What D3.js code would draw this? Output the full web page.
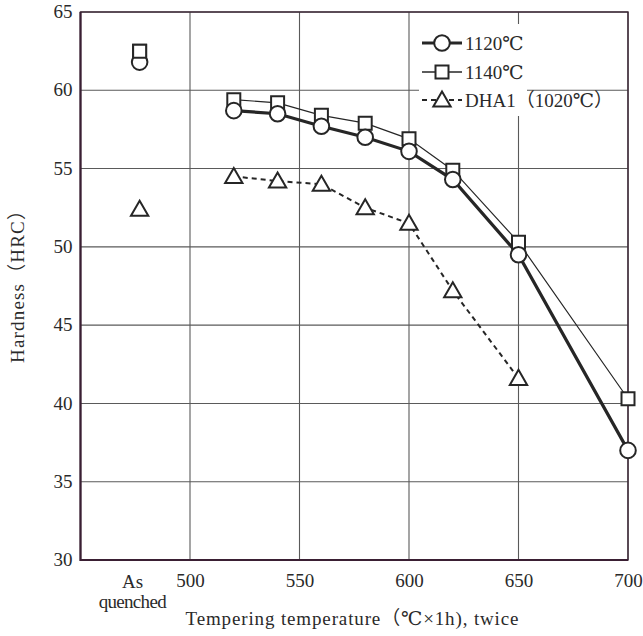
<!DOCTYPE html>
<html>
<head>
<meta charset="utf-8">
<script src="https://cdn.jsdelivr.net/npm/d3@7"></script>
<style>
  html, body { margin: 0; padding: 0; background: #fff; }
  svg { display: block; }
  text { font-family: "Liberation Serif", "DejaVu Serif", "Noto Sans CJK JP", serif; fill: #2a2a2a; }
</style>
</head>
<body>
<svg id="chart" width="643" height="636"></svg>
<script>
// Tempering temperatures (°C); "As quenched" sits at its own slot left of 500
const asQuenchedPos = 477;
const temps = [520, 540, 560, 580, 600, 620, 650, 700];
const tempsDHA1 = [520, 540, 560, 580, 600, 620, 650];

// Hardness (HRC) after tempering
const hrc1120 = [58.7, 58.5, 57.7, 57.0, 56.1, 54.3, 49.5, 37.0];
const hrc1140 = [59.4, 59.2, 58.4, 57.9, 56.9, 54.9, 50.3, 40.3];
const hrcDHA1 = [54.5, 54.2, 54.0, 52.5, 51.5, 47.2, 41.6];

// As-quenched hardness
const aq1120 = 61.8;
const aq1140 = 62.5;
const aqDHA1 = 52.4;

const xTicks = [500, 550, 600, 650, 700];
const yTicks = [30, 35, 40, 45, 50, 55, 60, 65];
const seriesNames = ["1120℃", "1140℃", "DHA1（1020℃）"];

const svg = d3.select("#chart");
const plotLeft = 80.5, plotRight = 628, plotTop = 12, plotBottom = 560;

const x = d3.scaleLinear().domain([450, 700]).range([plotLeft, plotRight]);
const y = d3.scaleLinear().domain([30, 65]).range([plotBottom, plotTop]);

const gridColor = "#5a5a5a";
const inkColor = "#262626";
const fontSize = 19;

// grid
const grid = svg.append("g");
grid.selectAll("line.v").data(xTicks).enter().append("line").attr("class", "v")
  .attr("x1", d => x(d)).attr("x2", d => x(d))
  .attr("y1", plotTop).attr("y2", plotBottom)
  .attr("stroke", gridColor).attr("stroke-width", 1.1);
grid.selectAll("line.h").data(yTicks).enter().append("line").attr("class", "h")
  .attr("x1", plotLeft).attr("x2", plotRight)
  .attr("y1", d => y(d)).attr("y2", d => y(d))
  .attr("stroke", gridColor).attr("stroke-width", 1.1);

// legend backdrop (hides the grid behind the legend)
svg.append("rect").attr("x", 419).attr("y", 24).attr("width", 108).attr("height", 92).attr("fill", "#fff");

// frame
svg.append("rect").attr("x", plotLeft).attr("y", plotTop)
  .attr("width", plotRight - plotLeft).attr("height", plotBottom - plotTop)
  .attr("fill", "none").attr("stroke", "#3a2434").attr("stroke-width", 1.4);
svg.append("line").attr("x1", plotLeft).attr("x2", plotLeft).attr("y1", plotTop).attr("y2", plotBottom + 1)
  .attr("stroke", "#3a1f33").attr("stroke-width", 2.2);
svg.append("line").attr("x1", plotLeft).attr("x2", plotRight).attr("y1", plotBottom).attr("y2", plotBottom)
  .attr("stroke", "#3a1f33").attr("stroke-width", 2.2);

// axes (labels only; the frame is drawn above)
const yAxis = d3.axisLeft(y).tickValues(yTicks).tickSize(0).tickPadding(8);
const gy = svg.append("g").attr("transform", `translate(${plotLeft},0)`).call(yAxis);
gy.select(".domain").remove();
gy.selectAll("text").attr("font-size", fontSize).attr("fill", "#2a2a2a")
  .style("font-family", "'Liberation Serif', serif").attr("dy", "0.3em");

const xAxis = d3.axisBottom(x).tickValues(xTicks).tickSize(0).tickPadding(14);
const gx = svg.append("g").attr("transform", `translate(0,${plotBottom})`).call(xAxis);
gx.select(".domain").remove();
gx.selectAll("text").attr("font-size", fontSize).attr("fill", "#2a2a2a")
  .style("font-family", "'Liberation Serif', serif");

svg.append("text").attr("x", x(asQuenchedPos) - 7).attr("y", 588).attr("text-anchor", "middle")
  .attr("font-size", fontSize).text("As");
svg.append("text").attr("x", x(asQuenchedPos) - 7).attr("y", 608).attr("text-anchor", "middle")
  .attr("font-size", fontSize).attr("textLength", 68).text("quenched");

// axis titles
svg.append("text").attr("x", 352).attr("y", 625).attr("text-anchor", "middle")
  .attr("font-size", fontSize).attr("textLength", 333).text("Tempering temperature（℃×1h), twice");
svg.append("text").attr("transform", "translate(24,282) rotate(-90)").attr("text-anchor", "middle")
  .attr("font-size", fontSize).attr("textLength", 162).text("Hardness（HRC）");

// series
const line = d3.line().x(d => x(d[0])).y(d => y(d[1]));
const pts1120 = temps.map((t, i) => [t, hrc1120[i]]);
const pts1140 = temps.map((t, i) => [t, hrc1140[i]]);
const ptsDHA1 = tempsDHA1.map((t, i) => [t, hrcDHA1[i]]);

svg.append("path").datum(ptsDHA1).attr("d", line).attr("fill", "none")
  .attr("stroke", inkColor).attr("stroke-width", 2).attr("stroke-dasharray", "5,4");
svg.append("path").datum(pts1140).attr("d", line).attr("fill", "none")
  .attr("stroke", inkColor).attr("stroke-width", 1.2);
svg.append("path").datum(pts1120).attr("d", line).attr("fill", "none")
  .attr("stroke", inkColor).attr("stroke-width", 3.2);

const sym = {
  circle: d3.symbol().type(d3.symbolCircle).size(Math.PI * 7.8 * 7.8),
  square: d3.symbol().type(d3.symbolSquare).size(13 * 13),
  triangle: d3.symbol().type(d3.symbolTriangle).size(130)
};
function drawMarkers(pts, type, dy) {
  svg.append("g").selectAll("path").data(pts).enter().append("path")
    .attr("d", sym[type]())
    .attr("transform", d => `translate(${x(d[0])},${y(d[1]) + (dy || 0)})`)
    .attr("fill", "#fff").attr("stroke", inkColor).attr("stroke-width", 2);
}
drawMarkers(ptsDHA1.concat([[asQuenchedPos, aqDHA1]]), "triangle", 1.5);
drawMarkers(pts1140.concat([[asQuenchedPos, aq1140]]), "square");
drawMarkers(pts1120.concat([[asQuenchedPos, aq1120]]), "circle");
// square over the as-quenched circle, as stacked in the plot
drawMarkers([[asQuenchedPos, aq1140]], "square");

// legend
const legend = svg.append("g");
const legendRows = [
  { name: seriesNames[0], type: "circle", width: 3.2, dash: null, y: 43 },
  { name: seriesNames[1], type: "square", width: 1.3, dash: null, y: 72 },
  { name: seriesNames[2], type: "triangle", width: 2, dash: "5,4", y: 100 }
];
legendRows.forEach(r => {
  legend.append("line").attr("x1", 422).attr("x2", 462).attr("y1", r.y).attr("y2", r.y)
    .attr("stroke", inkColor).attr("stroke-width", r.width).attr("stroke-dasharray", r.dash);
  legend.append("path").attr("d", sym[r.type]())
    .attr("transform", `translate(442,${r.y + (r.type === "triangle" ? 1.5 : 0)})`)
    .attr("fill", "#fff").attr("stroke", inkColor).attr("stroke-width", 2);
  legend.append("text").attr("x", 465).attr("y", r.y).attr("dy", "0.35em")
    .attr("font-size", fontSize).text(r.name);
});
</script>
</body>
</html>
